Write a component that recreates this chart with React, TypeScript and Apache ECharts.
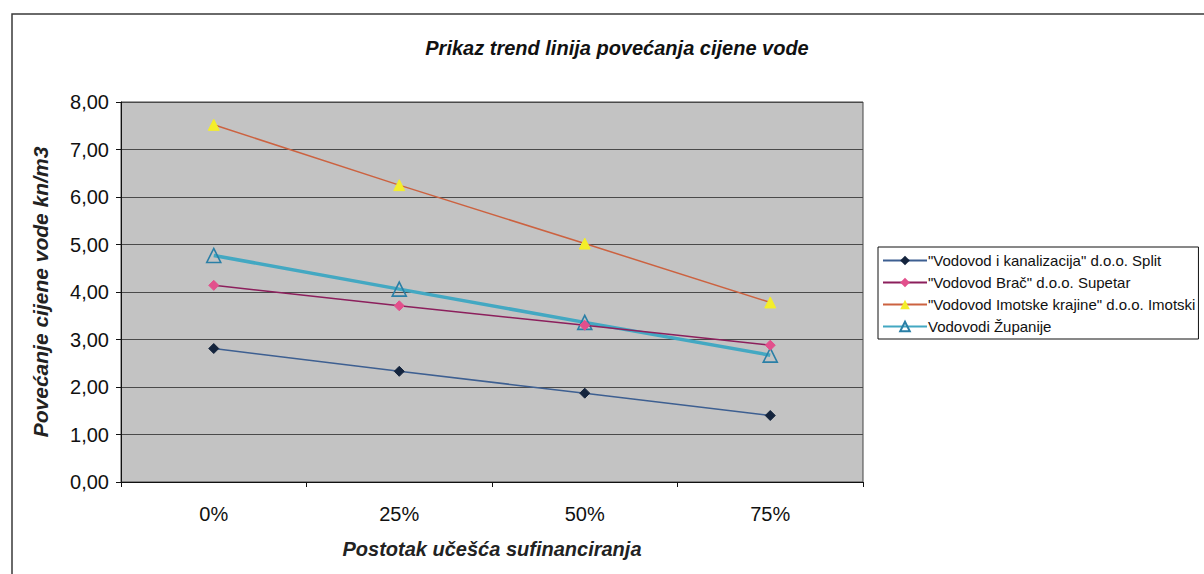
import React, { useEffect, useRef } from "react";
import * as echarts from "echarts";

const categories = ["0%", "25%", "50%", "75%"];
const yTicks = [0, 1, 2, 3, 4, 5, 6, 7, 8];

const seriesNames = [
  '"Vodovod i kanalizacija" d.o.o. Split',
  '"Vodovod Brač" d.o.o. Supetar',
  '"Vodovod Imotske krajine" d.o.o. Imotski',
  "Vodovodi Županije",
];

const splitValues = [2.81, 2.33, 1.87, 1.4];
const bracValues = [4.14, 3.71, 3.3, 2.88];
const imotskiValues = [7.52, 6.25, 5.02, 3.78];
const zupanijeValues = [4.77, 4.06, 3.36, 2.67];

const FONT = "'Liberation Sans', Arial, sans-serif";

const fmt = (v: number) => v.toFixed(2).replace(".", ",");

export default function App() {
  const ref = useRef<HTMLDivElement>(null);

  useEffect(() => {
    if (!ref.current) return;
    const chart = echarts.init(ref.current, null, { renderer: "svg" });
    chart.setOption({
      animation: false,
      backgroundColor: "#ffffff",
      graphic: [
        {
          type: "rect",
          shape: { x: 12, y: 14, width: 1210, height: 600 },
          style: { fill: "none", stroke: "#3a3a3a", lineWidth: 1.5 },
          silent: true,
        },
      ],
      title: {
        text: "Prikaz trend linija povećanja cijene vode",
        left: 612,
        top: 33,
        textAlign: "center",
        textStyle: {
          fontFamily: FONT,
          fontSize: 20,
          fontWeight: "bold",
          fontStyle: "italic",
          color: "#111",
        },
      },
      legend: {
        orient: "vertical",
        left: 878,
        top: 247,
        itemWidth: 44,
        itemHeight: 12,
        itemGap: 7,
        padding: [6, 3, 5, 4],
        borderColor: "#111",
        borderWidth: 1,
        backgroundColor: "#fff",
        textStyle: { fontFamily: FONT, fontSize: 15, color: "#111", padding: [0, 0, 0, -4] },
        data: seriesNames,
      },
      grid: {
        left: 121,
        top: 102,
        width: 742,
        height: 380,
        show: true,
        backgroundColor: "#c3c3c3",
        borderColor: "#444",
        borderWidth: 1,
      },
      xAxis: {
        type: "category",
        data: categories,
        boundaryGap: true,
        name: "Postotak učešća sufinanciranja",
        nameLocation: "middle",
        nameGap: 57,
        nameTextStyle: {
          fontFamily: FONT,
          fontSize: 20,
          fontWeight: "bold",
          fontStyle: "italic",
          color: "#222",
        },
        axisLine: { lineStyle: { color: "#111", width: 1 } },
        axisTick: { show: true, alignWithLabel: false, length: 5, lineStyle: { color: "#111" } },
        axisLabel: { fontFamily: FONT, fontSize: 20, color: "#111", margin: 22 },
        splitLine: { show: false },
      },
      yAxis: {
        type: "value",
        min: yTicks[0],
        max: yTicks[yTicks.length - 1],
        interval: 1,
        name: "Povećanje cijene vode kn/m3",
        nameLocation: "middle",
        nameGap: 70,
        nameTextStyle: {
          fontFamily: FONT,
          fontSize: 21,
          fontWeight: "bold",
          fontStyle: "italic",
          color: "#222",
        },
        axisLine: { show: true, lineStyle: { color: "#111", width: 1 } },
        axisTick: { show: true, length: 5, lineStyle: { color: "#111" } },
        axisLabel: {
          fontFamily: FONT,
          fontSize: 20,
          color: "#111",
          margin: 12,
          formatter: (v: number) => fmt(v),
        },
        splitLine: { show: true, lineStyle: { color: "#4a4a4a", width: 1 } },
      },
      series: [
        {
          name: seriesNames[0],
          type: "line",
          data: splitValues,
          symbol: "diamond",
          symbolSize: 10,
          lineStyle: { color: "#3d5f91", width: 1.5 },
          itemStyle: { color: "#14243d", borderColor: "#14243d" },
          z: 3,
        },
        {
          name: seriesNames[1],
          type: "line",
          data: bracValues,
          symbol: "diamond",
          symbolSize: 10,
          lineStyle: { color: "#8c1f5c", width: 1.5 },
          itemStyle: { color: "#e2508c", borderColor: "#e2508c" },
          z: 3,
        },
        {
          name: seriesNames[2],
          type: "line",
          data: imotskiValues,
          symbol: "triangle",
          symbolSize: 11,
          lineStyle: { color: "#cc6240", width: 1.5 },
          itemStyle: { color: "#f4ee2a", borderColor: "#f4ee2a" },
          z: 3,
        },
        {
          name: seriesNames[3],
          type: "line",
          data: zupanijeValues,
          symbol: "triangle",
          symbolSize: 14,
          showAllSymbol: true,
          lineStyle: { color: "#43a8c2", width: 3.5 },
          itemStyle: { color: "rgba(0,0,0,0)", borderColor: "#2a7fa6", borderWidth: 1.6 },
          z: 2,
        },
      ],
    });
    return () => chart.dispose();
  }, []);

  return (
    <div
      ref={ref}
      style={{ position: "fixed", left: 0, top: 0, width: 1204, height: 574 }}
    />
  );
}
